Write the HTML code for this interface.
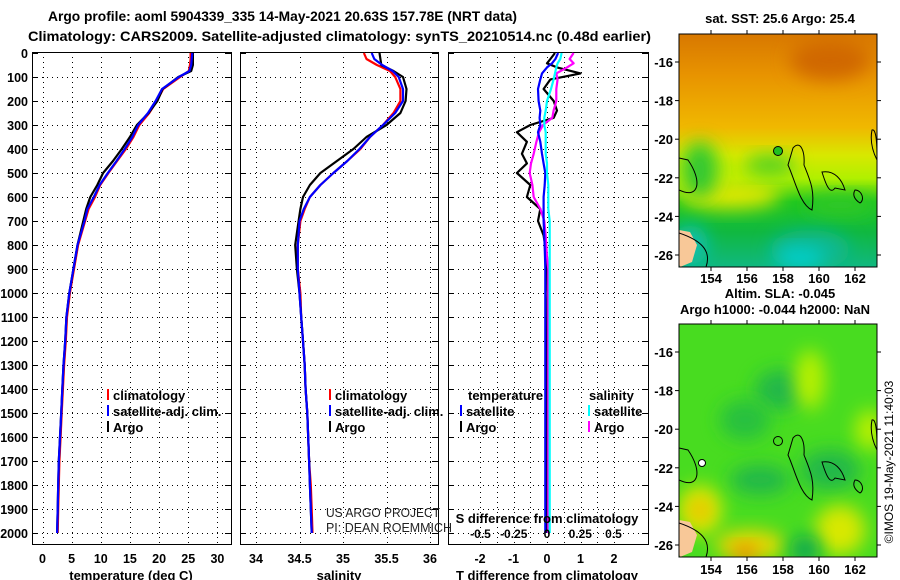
<!DOCTYPE html>
<html><head><meta charset="utf-8">
<style>
html,body{margin:0;padding:0;background:#fff;}
svg{display:block;font-family:"Liberation Sans",sans-serif;}
.b{font-weight:bold;}
</style></head>
<body>
<svg id="fig" width="900" height="580" viewBox="0 0 900 580" xmlns="http://www.w3.org/2000/svg">
<defs>
<clipPath id="c1"><rect x="32" y="52" width="199" height="493"/></clipPath>
<clipPath id="c2"><rect x="240" y="52" width="198" height="493"/></clipPath>
<clipPath id="c3"><rect x="448" y="52" width="200" height="493"/></clipPath>
<clipPath id="m1"><rect x="679" y="34" width="198" height="233"/></clipPath>
<clipPath id="m2"><rect x="679" y="324" width="198" height="233"/></clipPath>
<linearGradient id="sst" x1="0" y1="0" x2="0" y2="1">
<stop offset="0" stop-color="#d87800"/><stop offset="0.18" stop-color="#e89400"/><stop offset="0.4" stop-color="#f0b800"/>
<stop offset="0.52" stop-color="#d8e800"/><stop offset="0.62" stop-color="#b0f000"/><stop offset="0.72" stop-color="#20c820"/>
<stop offset="0.85" stop-color="#10b840"/><stop offset="1" stop-color="#10b880"/></linearGradient>
<filter id="bl" x="-50%" y="-50%" width="200%" height="200%"><feGaussianBlur stdDeviation="9"/></filter>
</defs>

<text class="b" x="48" y="21" font-size="14" textLength="469" lengthAdjust="spacingAndGlyphs">Argo profile: aoml 5904339_335 14-May-2021 20.63S 157.78E (NRT data)</text>
<text class="b" x="28" y="41" font-size="14" textLength="623" lengthAdjust="spacingAndGlyphs">Climatology: CARS2009. Satellite-adjusted climatology: synTS_20210514.nc (0.48d earlier)</text>

<g id="panels"></g>

<g>
<text class="b" x="780" y="23" font-size="13" text-anchor="middle">sat. SST: 25.6 Argo: 25.4</text>
<g clip-path="url(#m1)">
<rect x="679" y="34" width="198" height="233" fill="url(#sst)"/>
<ellipse cx="700" cy="175" rx="30" ry="20" fill="#c0f000" filter="url(#bl)"/>
<ellipse cx="730" cy="195" rx="50" ry="14" fill="#e0e800" filter="url(#bl)"/>
<ellipse cx="700" cy="170" rx="18" ry="28" fill="#30c830" filter="url(#bl)"/>
<ellipse cx="770" cy="165" rx="25" ry="10" fill="#50d020" filter="url(#bl)"/>
<ellipse cx="840" cy="205" rx="35" ry="10" fill="#30c828" filter="url(#bl)"/>
<ellipse cx="830" cy="60" rx="40" ry="20" fill="#d06800" filter="url(#bl)"/>
<ellipse cx="810" cy="250" rx="40" ry="20" fill="#10b890" filter="url(#bl)"/>
<ellipse cx="800" cy="258" rx="25" ry="10" fill="#00d0d0" filter="url(#bl)"/>
<ellipse cx="690" cy="245" rx="18" ry="20" fill="#10c0b0" filter="url(#bl)"/>
<polygon points="679,263 679,230 690,232 697,245 692,262 680,267" fill="#f8c898"/>
<path d="M679,233 C700,240 712,250 706,267 M679,190 C700,200 702,180 688,160 L679,158" fill="none" stroke="#000" stroke-width="1"/>
<path d="M793,148 C800,140 805,150 804,165 C810,180 815,190 812,210 C800,205 795,180 788,165 Z" fill="none" stroke="#000" stroke-width="1"/>
<path d="M822,172 C835,170 842,180 845,190 L835,188 C830,195 826,185 822,172 Z M855,190 C862,190 865,200 860,203 C855,200 852,195 855,190 Z M872,130 C877,128 877,150 877,160 C872,150 870,140 872,130 Z" fill="none" stroke="#000" stroke-width="1"/>
<circle cx="778" cy="151" r="4.5" fill="#20c020" stroke="#000" stroke-width="1"/>
</g>
<rect x="679" y="34" width="198" height="233" fill="none" stroke="#000" stroke-width="1"/>
</g>

<g>
<text class="b" x="780" y="298" font-size="13" text-anchor="middle">Altim. SLA: -0.045</text>
<text class="b" x="775" y="314" font-size="13" text-anchor="middle">Argo h1000: -0.044 h2000: NaN</text>
<g clip-path="url(#m2)">
<rect x="679" y="324" width="198" height="233" fill="#48dc20"/>
<ellipse cx="780" cy="390" rx="25" ry="20" fill="#20b848" filter="url(#bl)"/>
<ellipse cx="745" cy="420" rx="25" ry="20" fill="#28c040" filter="url(#bl)"/>
<ellipse cx="760" cy="480" rx="30" ry="15" fill="#20b848" filter="url(#bl)"/>
<ellipse cx="830" cy="470" rx="30" ry="20" fill="#20b848" filter="url(#bl)"/>
<ellipse cx="810" cy="380" rx="15" ry="30" fill="#b8f000" filter="url(#bl)"/>
<ellipse cx="700" cy="510" rx="22" ry="25" fill="#d8e800" filter="url(#bl)"/>
<ellipse cx="700" cy="510" rx="10" ry="10" fill="#f0b800" filter="url(#bl)"/>
<ellipse cx="750" cy="545" rx="35" ry="15" fill="#e8d800" filter="url(#bl)"/>
<ellipse cx="745" cy="553" rx="12" ry="8" fill="#f08000" filter="url(#bl)"/>
<ellipse cx="840" cy="530" rx="25" ry="25" fill="#d8e800" filter="url(#bl)"/>
<ellipse cx="805" cy="550" rx="15" ry="15" fill="#10a850" filter="url(#bl)"/>
<ellipse cx="870" cy="430" rx="15" ry="20" fill="#b8f000" filter="url(#bl)"/>
<polygon points="679,553 679,520 690,522 697,535 692,552 680,557" fill="#f8c898"/>
<path d="M679,523 C700,530 712,540 706,557 M679,480 C700,490 702,470 688,450 L679,448" fill="none" stroke="#000" stroke-width="1"/>
<path d="M793,438 C800,430 805,440 804,455 C810,470 815,480 812,500 C800,495 795,470 788,455 Z" fill="none" stroke="#000" stroke-width="1"/>
<path d="M822,462 C835,460 842,470 845,480 L835,478 C830,485 826,475 822,462 Z M855,480 C862,480 865,490 860,493 C855,490 852,485 855,480 Z M872,420 C877,418 877,440 877,450 C872,440 870,430 872,420 Z" fill="none" stroke="#000" stroke-width="1"/>
<circle cx="778" cy="441" r="4.5" fill="none" stroke="#000" stroke-width="1"/>
<circle cx="702" cy="463" r="3.5" fill="#fff" stroke="#000" stroke-width="1"/>
</g>
<rect x="679" y="324" width="198" height="233" fill="none" stroke="#000" stroke-width="1"/>
</g>
<g id="mapticks"></g>
<text x="893" y="462" font-size="12" text-anchor="middle" transform="rotate(-90 893 462)">©IMOS 19-May-2021 11:40:03</text>
</svg>

<script>
const depths = [0,25,50,75,100,150,200,250,300,350,400,450,500,550,600,650,700,800,900,1000,1100,1200,1300,1400,1500,1600,1700,1800,1900,2000];
const tempClim = [25.4,25.4,25.3,25.1,23.6,20.7,19.6,18.3,16.6,15.6,14.3,12.8,11.3,9.9,9.0,7.9,7.3,6.1,5.4,4.7,4.2,4.0,3.7,3.5,3.3,3.1,2.9,2.8,2.7,2.6];
const tempSat  = [25.7,25.6,25.5,25.2,23.4,20.5,19.4,18.1,16.4,15.4,14.1,12.7,11.2,9.8,8.8,7.7,7.2,6.0,5.3,4.6,4.1,3.9,3.6,3.4,3.2,3.0,2.8,2.7,2.6,2.5];
const tempArgo = [25.8,25.8,25.8,25.5,23.3,20.6,19.7,18.2,16.2,15.0,13.6,12.1,10.4,9.4,8.2,7.5,7.0,6.0,5.3,4.6,4.1,3.9,3.6,3.4,3.2,3.0,2.8,2.7,2.6,2.5];
const salClim = [35.24,35.27,35.39,35.54,35.60,35.66,35.66,35.58,35.46,35.31,35.20,35.05,34.89,34.74,34.62,34.56,34.51,34.48,34.48,34.51,34.52,34.54,34.56,34.57,34.59,34.60,34.61,34.63,34.64,34.65];
const salSat  = [35.33,35.36,35.45,35.57,35.64,35.69,35.69,35.60,35.46,35.31,35.19,35.05,34.89,34.74,34.62,34.55,34.50,34.48,34.48,34.50,34.52,34.54,34.56,34.57,34.59,34.60,34.61,34.62,34.63,34.64];
const salArgo = [35.42,35.43,35.44,35.58,35.69,35.73,35.72,35.66,35.50,35.27,35.12,34.93,34.74,34.62,34.54,34.51,34.49,34.45,34.47,34.50,34.52,34.54,34.56,34.57,34.59,34.60,34.61,34.62,34.63,34.64];
const diffDepths = [0,25,43,60,85,110,150,200,240,270,300,330,370,420,460,500,550,600,650,700,760,850,900,1000,1200,1400,1600,1800,2000];
const tDiffArgo = [0.24,0.1,0.0,0.3,1.0,0.1,-0.1,0.2,0.3,0.2,-0.5,-0.9,-0.6,-0.75,-0.6,-0.9,-0.5,-0.6,-0.2,-0.27,-0.1,0.0,0.0,0.02,0.0,0.0,0.0,0.0,0.0];
const tDiffSat  = [0.33,0.25,0.15,0.0,-0.15,-0.2,-0.27,-0.25,-0.2,-0.22,-0.2,-0.27,-0.2,-0.15,-0.1,-0.05,-0.07,-0.1,-0.1,-0.1,-0.08,-0.06,-0.05,-0.05,-0.05,-0.05,-0.05,-0.05,-0.05];
const sDiffSat  = [0.11,0.1,0.08,0.07,0.06,0.05,0.03,0.0,-0.01,-0.02,-0.02,-0.01,-0.01,-0.01,0.0,0.0,0.01,0.01,0.01,0.02,0.02,0.02,0.02,0.02,0.02,0.02,0.02,0.02,0.02];
const sDiffArgo = [0.2,0.17,0.2,0.15,0.07,0.08,0.07,0.07,0.05,0.04,-0.03,-0.06,-0.08,-0.1,-0.12,-0.13,-0.11,-0.1,-0.05,-0.02,-0.01,0.0,0.01,0.01,0.01,0.01,0.01,0.01,0.01];
const depthTicks = [0,100,200,300,400,500,600,700,800,900,1000,1100,1200,1300,1400,1500,1600,1700,1800,1900,2000];
const tempTicks = [0,5,10,15,20,25,30];
const salTicks = [34,34.5,35,35.5,36];
const tDiffTicks = [-2,-1,0,1,2];
const sDiffTicks = [-0.5,-0.25,0,0.25,0.5];
const lonTicks = [154,156,158,160,162];
const latTicks = [-16,-18,-20,-22,-24,-26];

const yD = d => 53 + d*0.24;
const xT = t => 42.5 + t*5.83;
const xS = s => 256 + (s-34)*87;
const xTD = t => 547 + t*33.5;
const xSD = s => 547 + s*133;
const xLon = l => 711 + (l-154)*18;
const yLat1 = l => 62 + (-16 - l)*19.3;
const yLat2 = l => 352 + (-16 - l)*19.3;

const NS='http://www.w3.org/2000/svg';
const root=document.getElementById('panels');
function mk(tag, attrs, parent, text){
  const e=document.createElementNS(NS,tag);
  for(const k in attrs) e.setAttribute(k,attrs[k]);
  if(text!==undefined) e.textContent=text;
  (parent||root).appendChild(e); return e;
}
function pathOf(xs, ys){
  let p='';
  for(let i=0;i<xs.length;i++){ p += (i?'L':'M')+xs[i].toFixed(1)+','+ys[i].toFixed(1); }
  return p;
}

const panels=[
 {x0:32,x1:231,ticks:tempTicks,grid:[0,5,10,15,20,25,30],xf:xT,name:'temperature-panel',title:'temperature (deg C)',tx:131},
 {x0:240,x1:438,ticks:salTicks,grid:[34,34.5,35,35.5,36],xf:xS,name:'salinity-panel',title:'salinity',tx:339},
 {x0:448,x1:648,ticks:tDiffTicks,grid:[-2,-1.5,-1,-0.5,0,0.5,1,1.5,2],xf:xTD,name:'difference-panel',title:'T difference from climatology',tx:547}
];
panels.forEach(p=>{
  const g=mk('g',{});
  
  
  const grid=mk('g',{stroke:'#000','stroke-width':1,'stroke-dasharray':'1,4'},g);
  
  
  depthTicks.forEach(d=>{ if(d>0) mk('line',{x1:p.x0,x2:p.x1,y1:yD(d)+0.5,y2:yD(d)+0.5},grid); });
  p.grid.forEach(t=>{ const x=Math.round(p.xf(t))+0.5; if(x>p.x0+2 && x<p.x1-2) mk('line',{x1:x,x2:x,y1:52,y2:545},grid); });
  depthTicks.forEach(d=>{ const y=yD(d)+0.5; mk('line',{x1:p.x0,x2:p.x0+6,y1:y,y2:y,stroke:'#000'},g); mk('line',{x1:p.x1-6,x2:p.x1,y1:y,y2:y,stroke:'#000'},g); });
  const fr=mk('rect',{x:p.x0+0.5,y:52.5,width:p.x1-p.x0,height:492,fill:'none',stroke:'#000','stroke-width':1},g);
  
  
  p.ticks.forEach(t=>{
    const tl=mk('text',{x:p.xf(t),y:563,'font-size':12.5,'text-anchor':'middle','class':'b'},g,String(t));
    
    
  });
  const at=mk('text',{x:p.tx,y:580,'font-size':13,'text-anchor':'middle','class':'b'},g,p.title);
  
  
});
depthTicks.forEach(d=>{
  const t=mk('text',{x:28,y:yD(d)+5,'font-size':12.5,'text-anchor':'end','class':'b'},root,String(d));
  
  
});

function series(arrX, arrD, xf, color, clip, name){
  const xs=arrX.map(xf), ys=arrD.map(yD);
  const e=mk('path',{d:pathOf(xs,ys),fill:'none',stroke:color,'stroke-width':2.2,'clip-path':'url(#'+clip+')','stroke-linejoin':'round'});
  
  
}
series(tempClim,depths,xT,'#ff0000','c1','temp-climatology-line');
series(tempArgo,depths,xT,'#000000','c1','temp-argo-line');
series(tempSat,depths,xT,'#0000ff','c1','temp-satellite-line');
series(salClim,depths,xS,'#ff0000','c2','sal-climatology-line');
series(salArgo,depths,xS,'#000000','c2','sal-argo-line');
series(salSat,depths,xS,'#0000ff','c2','sal-satellite-line');
series(tDiffArgo,diffDepths,xTD,'#000000','c3','tdiff-argo-line');
series(sDiffArgo,diffDepths,xSD,'#ff00ff','c3','sdiff-argo-line');
series(tDiffSat,diffDepths,xTD,'#0000ff','c3','tdiff-satellite-line');
series(sDiffSat,diffDepths,xSD,'#00ffff','c3','sdiff-satellite-line');

function legend(x,y,color,label,name){
  const g=mk('g',{});
  
  
  if(color) mk('rect',{x:x,y:y-6,width:2,height:11,fill:color},g);
  mk('text',{x:x+6,y:y+5,'font-size':13,'class':'b'},g,label);
}
legend(107,395,'#ff0000','climatology','legend-entry-temp-climatology');
legend(107,411,'#0000ff','satellite-adj. clim.','legend-entry-temp-satellite');
legend(107,427,'#000000','Argo','legend-entry-temp-argo');
legend(329,395,'#ff0000','climatology','legend-entry-sal-climatology');
legend(329,411,'#0000ff','satellite-adj. clim.','legend-entry-sal-satellite');
legend(329,427,'#000000','Argo','legend-entry-sal-argo');
legend(462,395,null,'temperature','legend-heading-temperature');
legend(460,411,'#0000ff','satellite','legend-entry-tdiff-satellite');
legend(460,427,'#000000','Argo','legend-entry-tdiff-argo');
legend(583,395,null,'salinity','legend-heading-salinity');
legend(588,411,'#00ffff','satellite','legend-entry-sdiff-satellite');
legend(588,427,'#ff00ff','Argo','legend-entry-sdiff-argo');

const sdt=mk('text',{x:547,y:523,'font-size':13,'text-anchor':'middle','class':'b'},root,'S difference from climatology');


sDiffTicks.forEach(s=>{
  const t=mk('text',{x:xSD(s),y:538,'font-size':12,'text-anchor':'middle','class':'b'},root,String(s));
  
  
});
const c1=mk('text',{x:326,y:517,'font-size':13,fill:'#222',textLength:114,lengthAdjust:'spacingAndGlyphs'},root,'US ARGO PROJECT');


const c2=mk('text',{x:326,y:532,'font-size':13,fill:'#222',textLength:126,lengthAdjust:'spacingAndGlyphs'},root,'PI: DEAN ROEMMICH');



const mt=document.getElementById('mapticks');
[[yLat1,267,283],[yLat2,557,574]].forEach(([yl,yb,ylab])=>{
  lonTicks.forEach(l=>{
    const x=xLon(l);
    mk('line',{x1:x,x2:x,y1:yb,y2:yb+4,stroke:'#000'},mt);
    mk('line',{x1:x,x2:x,y1:yb-237,y2:yb-233,stroke:'#000'},mt);
    const t=mk('text',{x:x,y:ylab,'font-size':13,'text-anchor':'middle','class':'b'},mt,String(l));
    
    
  });
  latTicks.forEach(l=>{
    const y=yl(l);
    mk('line',{x1:675,x2:679,y1:y,y2:y,stroke:'#000'},mt);
    mk('line',{x1:877,x2:881,y1:y,y2:y,stroke:'#000'},mt);
    const t=mk('text',{x:673,y:y+5,'font-size':13,'text-anchor':'end','class':'b'},mt,String(l));
    
    
  });
});
</script>
</body></html>
